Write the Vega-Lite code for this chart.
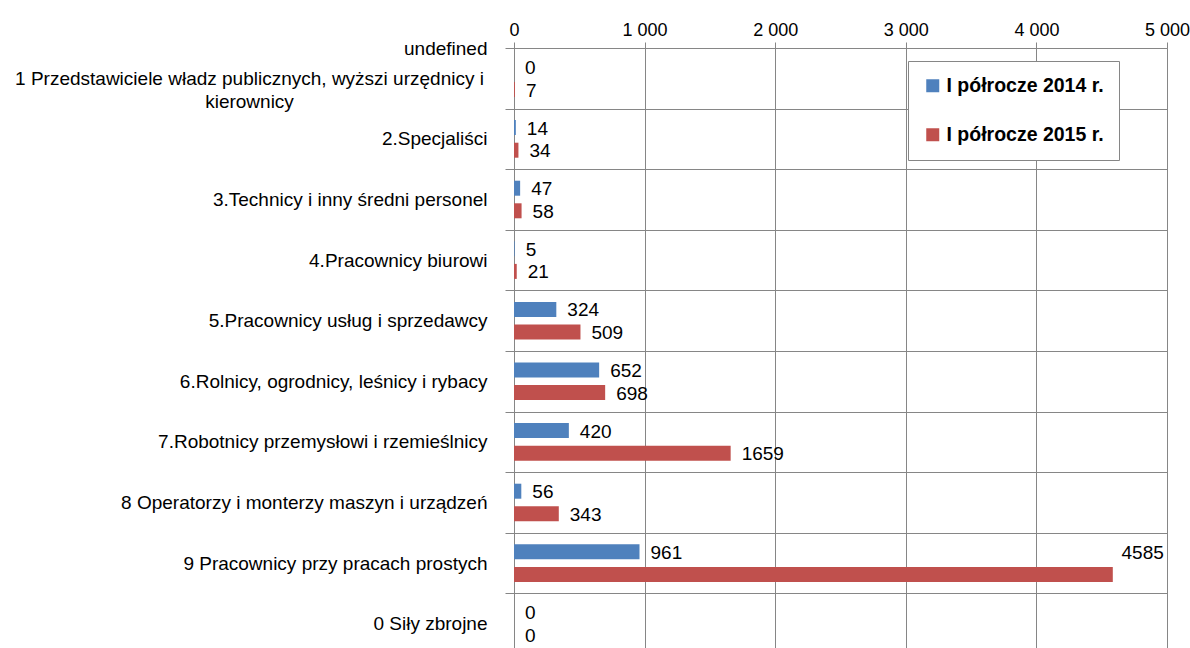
{
  "$schema": "https://vega.github.io/schema/vega-lite/v6.json",
  "width": 653,
  "height": 606,
  "autosize": "none",
  "padding": {"left": 514, "top": 48, "right": 23, "bottom": 0},
  "background": "white",
  "config": {
    "view": {"stroke": null},
    "font": "Liberation Sans"
  },
  "data": {
    "values": [
      {"kategoria": "1 Przedstawiciele władz publicznych, wyższi urzędnicy i kierownicy", "okres": "I półrocze 2014 r.", "wartosc": 0},
      {"kategoria": "1 Przedstawiciele władz publicznych, wyższi urzędnicy i kierownicy", "okres": "I półrocze 2015 r.", "wartosc": 7},
      {"kategoria": "2.Specjaliści", "okres": "I półrocze 2014 r.", "wartosc": 14},
      {"kategoria": "2.Specjaliści", "okres": "I półrocze 2015 r.", "wartosc": 34},
      {"kategoria": "3.Technicy i inny średni personel", "okres": "I półrocze 2014 r.", "wartosc": 47},
      {"kategoria": "3.Technicy i inny średni personel", "okres": "I półrocze 2015 r.", "wartosc": 58},
      {"kategoria": "4.Pracownicy biurowi", "okres": "I półrocze 2014 r.", "wartosc": 5},
      {"kategoria": "4.Pracownicy biurowi", "okres": "I półrocze 2015 r.", "wartosc": 21},
      {"kategoria": "5.Pracownicy usług i sprzedawcy", "okres": "I półrocze 2014 r.", "wartosc": 324},
      {"kategoria": "5.Pracownicy usług i sprzedawcy", "okres": "I półrocze 2015 r.", "wartosc": 509},
      {"kategoria": "6.Rolnicy, ogrodnicy, leśnicy i rybacy", "okres": "I półrocze 2014 r.", "wartosc": 652},
      {"kategoria": "6.Rolnicy, ogrodnicy, leśnicy i rybacy", "okres": "I półrocze 2015 r.", "wartosc": 698},
      {"kategoria": "7.Robotnicy przemysłowi i rzemieślnicy", "okres": "I półrocze 2014 r.", "wartosc": 420},
      {"kategoria": "7.Robotnicy przemysłowi i rzemieślnicy", "okres": "I półrocze 2015 r.", "wartosc": 1659},
      {"kategoria": "8 Operatorzy i monterzy maszyn i urządzeń", "okres": "I półrocze 2014 r.", "wartosc": 56},
      {"kategoria": "8 Operatorzy i monterzy maszyn i urządzeń", "okres": "I półrocze 2015 r.", "wartosc": 343},
      {"kategoria": "9 Pracownicy przy pracach prostych", "okres": "I półrocze 2014 r.", "wartosc": 961},
      {"kategoria": "9 Pracownicy przy pracach prostych", "okres": "I półrocze 2015 r.", "wartosc": 4585},
      {"kategoria": "0 Siły zbrojne", "okres": "I półrocze 2014 r.", "wartosc": 0},
      {"kategoria": "0 Siły zbrojne", "okres": "I półrocze 2015 r.", "wartosc": 0}
    ]
  },
  "encoding": {
    "y": {
      "field": "kategoria",
      "type": "nominal",
      "sort": [
        "1 Przedstawiciele władz publicznych, wyższi urzędnicy i kierownicy",
        "2.Specjaliści",
        "3.Technicy i inny średni personel",
        "4.Pracownicy biurowi",
        "5.Pracownicy usług i sprzedawcy",
        "6.Rolnicy, ogrodnicy, leśnicy i rybacy",
        "7.Robotnicy przemysłowi i rzemieślnicy",
        "8 Operatorzy i monterzy maszyn i urządzeń",
        "9 Pracownicy przy pracach prostych",
        "0 Siły zbrojne"
      ],
      "scale": {"padding": 0},
      "axis": {
        "title": null,
        "domainColor": "#868686",
        "tickSize": 9,
        "tickColor": "#868686",
        "tickBand": "extent",
        "grid": true,
        "gridColor": "#868686",
        "labelFontSize": 19,
        "labelColor": "black",
        "labelLimit": 700,
        "labelLineHeight": 23,
        "labelExpr": "indexof('' + datum.value, 'kierownicy') >= 0 ? ['1 Przedstawiciele władz publicznych, wyższi urzędnicy i', 'kierownicy'] : '' + datum.value",
        "labelAlign": {"condition": {"test": "indexof('' + datum.value, 'kierownicy') >= 0", "value": "center"}, "value": "right"},
        "labelPadding": {"condition": {"test": "indexof('' + datum.value, 'kierownicy') >= 0", "value": 256}, "value": 18}
      }
    },
    "x": {
      "field": "wartosc",
      "type": "quantitative",
      "scale": {"domain": [0, 5000], "nice": false},
      "axis": {
        "orient": "top",
        "title": null,
        "values": [0, 1000, 2000, 3000, 4000, 5000],
        "labelExpr": "replace(format(datum.value, ','), ',', '\u00a0')",
        "domainColor": "#868686",
        "tickColor": "#868686",
        "tickSize": 6,
        "grid": true,
        "gridColor": "#868686",
        "labelFontSize": 18,
        "labelColor": "black",
        "labelBaseline": "alphabetic",
        "labelPadding": 7,
        "labelFlush": false,
        "labelOverlap": false
      }
    }
  },
  "layer": [
    {
      "transform": [{"filter": "datum.okres == 'I półrocze 2014 r.'"}],
      "mark": {"type": "bar", "height": 15, "yOffset": -11.3},
      "encoding": {
        "color": {
          "field": "okres",
          "type": "nominal",
          "scale": {"domain": ["I półrocze 2014 r.", "I półrocze 2015 r."], "range": ["#4F81BD", "#C0504D"]},
          "legend": {
            "orient": "none",
            "legendX": 394,
            "legendY": 13,
            "title": null,
            "padding": 15,
            "strokeColor": "#868686",
            "fillColor": "white",
            "symbolType": "square",
            "symbolSize": 169,
            "labelFontSize": 19.5,
            "labelFontWeight": "bold",
            "labelColor": "black",
            "rowPadding": 28,
            "labelLimit": 400
          }
        }
      }
    },
    {
      "transform": [{"filter": "datum.okres == 'I półrocze 2015 r.'"}],
      "mark": {"type": "bar", "height": 15, "yOffset": 11.3},
      "encoding": {
        "color": {"field": "okres", "type": "nominal"}
      }
    },
    {
      "transform": [{"filter": "datum.okres == 'I półrocze 2014 r.'"}],
      "mark": {"type": "text", "align": "left", "baseline": "middle", "dx": 11, "dy": 1, "yOffset": -11.3, "fontSize": 19, "color": "black"},
      "encoding": {"text": {"field": "wartosc", "type": "quantitative", "format": "d"}}
    },
    {
      "transform": [{"filter": "datum.okres == 'I półrocze 2015 r.' && datum.wartosc < 4000"}],
      "mark": {"type": "text", "align": "left", "baseline": "middle", "dx": 11, "dy": 1, "yOffset": 11.3, "fontSize": 19, "color": "black"},
      "encoding": {"text": {"field": "wartosc", "type": "quantitative", "format": "d"}}
    },
    {
      "transform": [{"filter": "datum.okres == 'I półrocze 2015 r.' && datum.wartosc >= 4000"}],
      "mark": {"type": "text", "align": "right", "baseline": "middle", "dx": 51, "dy": -21, "yOffset": 11.3, "fontSize": 19, "color": "black"},
      "encoding": {"text": {"field": "wartosc", "type": "quantitative", "format": "d"}}
    }
  ]
}
